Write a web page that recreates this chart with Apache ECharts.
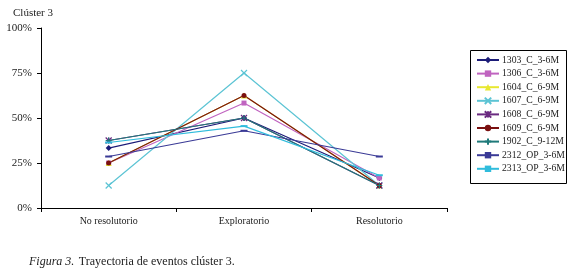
<!DOCTYPE html>
<html><head><meta charset="utf-8">
<script src="https://cdn.jsdelivr.net/npm/echarts@6/dist/echarts.min.js"></script>
<style>html,body{margin:0;padding:0;background:#fff}#c{width:574px;height:269px}</style>
</head><body><div id="c"></div>
<script>
const categories = ['No resolutorio', 'Exploratorio', 'Resolutorio'];
const seriesNames = ['1303_C_3-6M','1306_C_3-6M','1604_C_6-9M','1607_C_6-9M','1608_C_6-9M','1609_C_6-9M','1902_C_9-12M','2312_OP_3-6M','2313_OP_3-6M'];
const s1303 = [33.3, 50.0, 16.7];
const s1306 = [25.0, 58.3, 16.7];
const s1604 = [25.0, 62.5, 12.5];
const s1607 = [12.5, 75.0, 12.5];
const s1608 = [37.5, 50.0, 12.5];
const s1609 = [25.0, 62.5, 12.5];
const s1902 = [37.5, 50.0, 12.5];
const s2312 = [28.6, 42.9, 28.6];
const s2313 = [36.4, 45.5, 18.2];
const yTicks = [0, 25, 50, 75, 100];

const seriesValues = [s1303, s1306, s1604, s1607, s1608, s1609, s1902, s2312, s2313];
const colors = ['#1c1c78','#c064c0','#e8e830','#5cc4d4','#6a2a80','#7a1010','#1f7a7a','#3a3a96','#30bcdc'];
const symbols = ['diamond','rect','triangle',
  'path://M0,0L10,10M10,0L0,10',
  'path://M0,0L10,10M10,0L0,10M5,0L5,10',
  'circle',
  'path://M5,0L5,10M0,5L10,5',
  'rect','rect'];
const sizes = [6,5,6,6,6,5,6,[7,2],[7,2]];
const serif = '"Liberation Serif", "DejaVu Serif", serif';

const chart = echarts.init(document.getElementById('c'));
chart.setOption({
  animation: false,
  backgroundColor: '#fff',
  textStyle: {fontFamily: serif},
  title: [
    {text: 'Clúster 3', left: 8, top: 3, textStyle: {fontFamily: serif, fontSize: 11, fontWeight: 'normal', color: '#222'}},
    {text: '{i|Figura 3.} {n|Trayectoria de eventos clúster 3.}', left: 24, top: 248,
     textStyle: {fontWeight: 'normal', rich: {i: {fontFamily: serif, fontStyle: 'italic', fontWeight: 'normal', fontSize: 12, color: '#222'}, n: {fontFamily: serif, fontWeight: 'normal', fontSize: 12, color: '#222'}}}}
  ],
  grid: {left: 41, right: 127, top: 28, bottom: 61},
  graphic: [{type: 'rect', shape: {x: 470.5, y: 50.5, width: 96, height: 133}, style: {fill: 'none', stroke: '#000', lineWidth: 1}}],
  legend: {
    orient: 'vertical', left: 476, top: 55, padding: 0,
    itemWidth: 22, itemHeight: 8, itemGap: 3.6,
    textStyle: {fontFamily: serif, fontSize: 9.7, color: '#222', lineHeight: 10, padding: [0,0,0,-2]},
    data: seriesNames
  },
  xAxis: {
    type: 'category', data: categories, boundaryGap: true,
    axisLine: {lineStyle: {color: '#000', width: 1}},
    axisTick: {show: true, length: 4, lineStyle: {color: '#000'}},
    axisLabel: {fontFamily: serif, fontSize: 10, color: '#222', margin: 8},
    splitLine: {show: false}
  },
  yAxis: {
    type: 'value', min: 0, max: 100, interval: 25,
    axisLine: {show: true, lineStyle: {color: '#000', width: 1}},
    axisTick: {show: true, length: 4, lineStyle: {color: '#000'}},
    axisLabel: {fontFamily: serif, fontSize: 11, color: '#222', margin: 9, formatter: '{value}%'},
    splitLine: {show: false}
  },
  series: seriesNames.map((n, i) => ({
    name: n, type: 'line', data: seriesValues[i],
    symbol: symbols[i], symbolSize: sizes[i],
    lineStyle: {color: colors[i], width: 1.2},
    itemStyle: {color: colors[i], borderColor: colors[i], borderWidth: (typeof symbols[i] === 'string' && symbols[i].startsWith('path')) ? 1.2 : 0},
    emphasis: {disabled: true}
  }))
});
</script></body></html>
